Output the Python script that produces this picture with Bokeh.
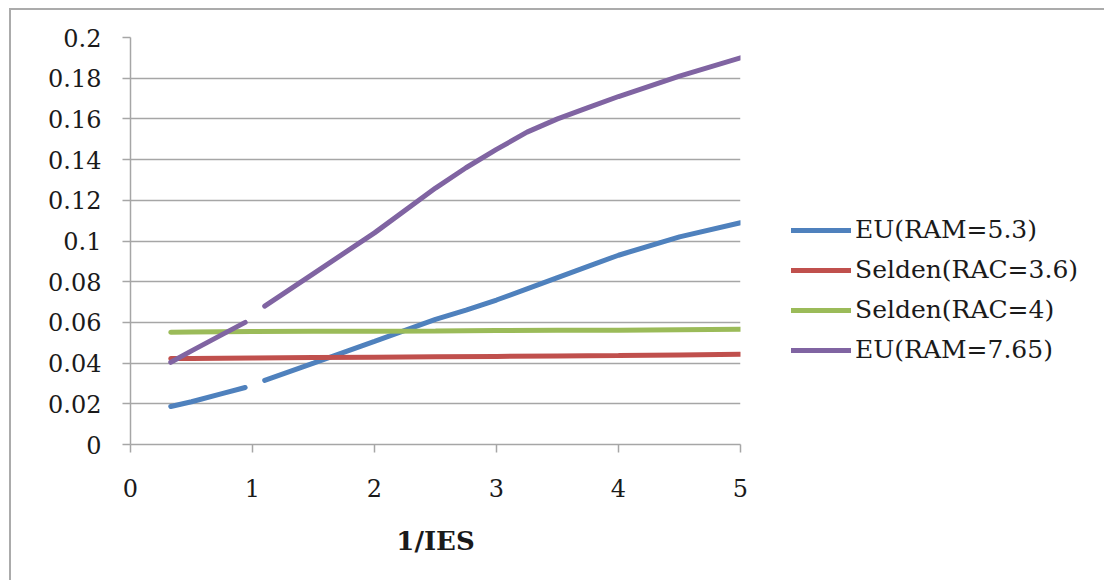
from bokeh.plotting import figure
from bokeh.models import Legend, LegendItem, FixedTicker
from bokeh.embed import file_html
from bokeh.resources import INLINE
import numpy as np

# ---- data ----
x_vals = [0.33, 0.5, 0.75, 0.94, np.nan, 1.1, 1.5, 2.0, 2.5, 2.75, 3.0, 3.25, 3.5, 3.75, 4.0, 4.5, 5.0]
eu_53 = [0.0187, 0.021, 0.025, 0.028, np.nan, 0.0315, 0.040, 0.0507, 0.0615, 0.066, 0.071, 0.0765, 0.082, 0.0875, 0.093, 0.102, 0.109]
eu_765 = [0.0404, 0.046, 0.054, 0.060, np.nan, 0.068, 0.084, 0.104, 0.126, 0.136, 0.145, 0.1535, 0.160, 0.1655, 0.171, 0.181, 0.190]
x_selden = [0.33, 0.5, 0.75, 1.0, 1.5, 2.0, 2.5, 3.0, 3.5, 4.0, 4.5, 5.0]
selden_36 = [0.0422, 0.0423, 0.0424, 0.0425, 0.0427, 0.0429, 0.0431, 0.0433, 0.0435, 0.0437, 0.0440, 0.0443]
selden_4 = [0.0552, 0.0553, 0.0554, 0.0555, 0.0556, 0.0557, 0.0558, 0.0560, 0.0561, 0.0562, 0.0564, 0.0566]
series_names = ["EU(RAM=5.3)", "Selden(RAC=3.6)", "Selden(RAC=4)", "EU(RAM=7.65)"]
y_ticks = [0, 0.02, 0.04, 0.06, 0.08, 0.1, 0.12, 0.14, 0.16, 0.18, 0.2]
y_tick_labels = ["0", "0.02", "0.04", "0.06", "0.08", "0.1", "0.12", "0.14", "0.16", "0.18", "0.2"]
x_ticks = [0, 1, 2, 3, 4, 5]
x_label = "1/IES"

colors = ["#4F81BD", "#C0504D", "#9BBB59", "#8064A2"]
FONT = "DejaVu Serif"
GRID = "#A6A6A6"
LW = 5

p = figure(frame_width=610, frame_height=407, x_range=(0, 5), y_range=(0, 0.2),
           output_backend="svg", toolbar_location=None,
           min_border_left=119, min_border_top=27, min_border_bottom=150,
           min_border_right=10)
p.margin = (8, 0, 0, 9)
p.styles = {"border-top": "2px solid #ABABAB", "border-left": "2px solid #ABABAB"}
p.outline_line_color = None
p.background_fill_color = "white"
p.border_fill_color = "white"

p.xgrid.grid_line_color = None
p.ygrid.grid_line_color = GRID
p.ygrid.grid_line_width = 1.5
p.ygrid.ticker = FixedTicker(ticks=y_ticks)

p.yaxis.ticker = FixedTicker(ticks=y_ticks)
p.yaxis.major_label_overrides = {t: l for t, l in zip(y_ticks, y_tick_labels)}
p.xaxis.ticker = FixedTicker(ticks=x_ticks)
for ax in (p.xaxis[0], p.yaxis[0]):
    ax.axis_line_color = GRID
    ax.axis_line_width = 1.5
    ax.major_tick_line_color = GRID
    ax.major_tick_line_width = 1.5
    ax.major_tick_in = 0
    ax.major_tick_out = 8
    ax.minor_tick_line_color = None
    ax.major_label_text_font = FONT
    ax.major_label_text_font_size = "24px"
    ax.major_label_text_color = "#1a1a1a"
p.yaxis.major_label_standoff = 21
p.xaxis.major_label_standoff = 26
p.xaxis.axis_label = x_label
p.xaxis.axis_label_text_font = FONT
p.xaxis.axis_label_text_font_style = "bold"
p.xaxis.axis_label_text_font_size = "26px"
p.xaxis.axis_label_text_color = "#1a1a1a"
p.xaxis.axis_label_standoff = 26

r1 = p.line(x_vals, eu_53, line_color=colors[0], line_width=LW, line_cap="round")
r2 = p.line(x_selden, selden_36, line_color=colors[1], line_width=LW, line_cap="round")
r3 = p.line(x_selden, selden_4, line_color=colors[2], line_width=LW, line_cap="round")
r4 = p.line(x_vals, eu_765, line_color=colors[3], line_width=LW, line_cap="round")

legend = Legend(items=[LegendItem(label=n, renderers=[r]) for n, r in zip(series_names, [r1, r2, r3, r4])],
                location=(51, 80), orientation="vertical")
legend.border_line_color = None
legend.background_fill_alpha = 0
legend.glyph_width = 60
legend.glyph_height = 20
legend.label_height = 20
legend.spacing = 11
legend.padding = 10
legend.margin = 0
legend.label_standoff = 4
legend.label_text_font = FONT
legend.label_text_font_size = "25px"
legend.label_text_color = "#1a1a1a"
p.add_layout(legend, "right")

open("out.html", "w").write(file_html(p, INLINE))
